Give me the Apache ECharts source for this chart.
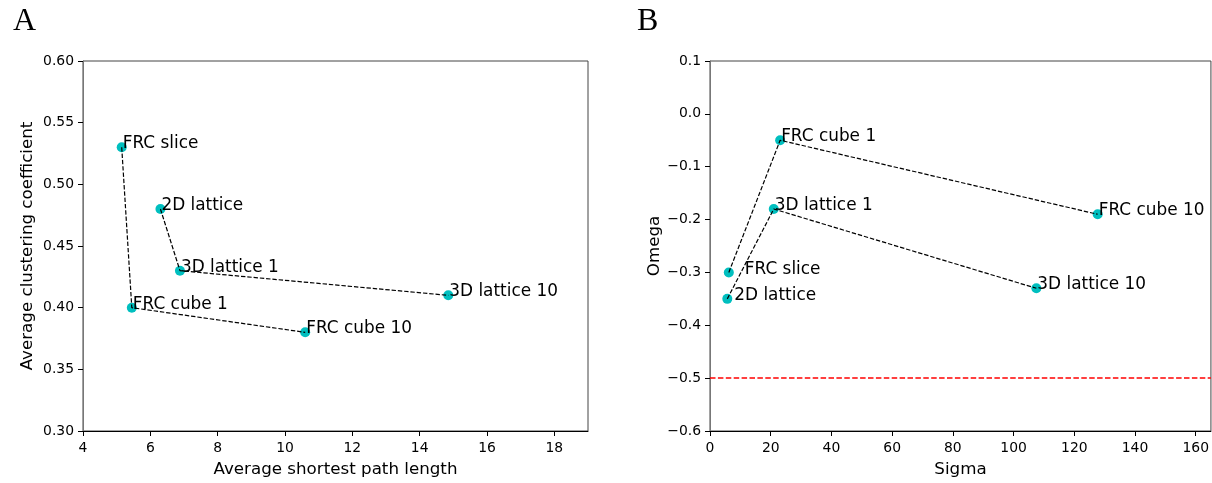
<!DOCTYPE html>
<html>
<head>
<meta charset="utf-8">
<script src="https://cdn.jsdelivr.net/npm/echarts@6/dist/echarts.min.js"></script>
<style>
  html, body { margin: 0; padding: 0; background: #fff; }
  #chart { width: 1212px; height: 483px; }
</style>
</head>
<body>
<div id="chart"></div>
<script>
// Network variants: names shared by both panels
const networkNames = ['FRC slice', '2D lattice', '3D lattice 1', '3D lattice 10', 'FRC cube 1', 'FRC cube 10'];

// Panel A: average shortest path length vs average clustering coefficient
const pathLength = [5.15, 6.3, 6.88, 14.85, 5.45, 10.6];
const clustering = [0.53, 0.48, 0.43, 0.41, 0.40, 0.38];

// Panel B: small-world sigma vs omega
const sigma = [6.2, 5.7, 21.0, 107.5, 23.1, 127.7];
const omega = [-0.30, -0.35, -0.18, -0.33, -0.05, -0.19];
const omegaThreshold = -0.5;

// Dashed chains joining the networks
const chainsA = [['FRC slice', 'FRC cube 1', 'FRC cube 10'], ['2D lattice', '3D lattice 1', '3D lattice 10']];
const chainsB = [['FRC slice', 'FRC cube 1', 'FRC cube 10'], ['2D lattice', '3D lattice 1', '3D lattice 10']];

// Tick labels
const ticksAx = [4, 6, 8, 10, 12, 14, 16, 18];
const ticksAy = [0.30, 0.35, 0.40, 0.45, 0.50, 0.55, 0.60];
const ticksBx = [0, 20, 40, 60, 80, 100, 120, 140, 160];
const ticksBy = [-0.6, -0.5, -0.4, -0.3, -0.2, -0.1, 0.0, 0.1];

const FONT = 'DejaVu Sans';
const MARKER = '#00bfbf';

// label nudges (pixels) for crowded points in panel B
const labelNudgeB = { 'FRC slice': [16, 2], '2D lattice': [7, 1] };

function points(xs, ys, nudge) {
  return networkNames.map((n, i) => {
    const d = nudge && nudge[n] ? nudge[n] : [1, 1];
    return {
      name: n,
      value: [xs[i], ys[i]],
      label: { position: [5 + d[0], 5 + d[1] + 4] }
    };
  });
}

function chainLines(chains, xs, ys, gi) {
  return chains.map(chain => ({
    type: 'line',
    xAxisIndex: gi, yAxisIndex: gi,
    data: chain.map(n => { const i = networkNames.indexOf(n); return [xs[i], ys[i]]; }),
    symbol: 'none',
    silent: true,
    z: 5,
    lineStyle: { color: '#000', width: 1.2, type: [4.4, 1.9] }
  }));
}

function scatter(xs, ys, gi, nudge) {
  return {
    type: 'scatter',
    xAxisIndex: gi, yAxisIndex: gi,
    data: points(xs, ys, nudge),
    symbolSize: 10,
    itemStyle: { color: MARKER, opacity: 1 },
    z: 3,
    label: {
      show: true,
      formatter: p => p.name,
      align: 'left',
      verticalAlign: 'bottom',
      fontFamily: FONT,
      fontSize: 16.9,
      lineHeight: 17,
      color: '#000'
    }
  };
}

const fmtMinus = d => v => v.toFixed(d).replace('-', '\u2212');

function xAxisCfg(gi, min, max, ticks, name, fmt) {
  return {
    type: 'value', gridIndex: gi, min: min, max: max,
    name: name, nameLocation: 'middle', nameGap: 30,
    nameTextStyle: { fontFamily: FONT, fontSize: 16.7, color: '#000' },
    axisLine: { show: true, onZero: false, lineStyle: { color: '#000', width: 1 } },
    axisTick: { show: true, length: 5, customValues: ticks, lineStyle: { color: '#000' } },
    axisLabel: { customValues: ticks, formatter: fmt, margin: 10, fontFamily: FONT, fontSize: 13.9, color: '#000' },
    splitLine: { show: false }
  };
}

function yAxisCfg(gi, min, max, ticks, name, fmt, gap) {
  return {
    type: 'value', gridIndex: gi, min: min, max: max,
    name: name, nameLocation: 'middle', nameGap: gap,
    nameTextStyle: { fontFamily: FONT, fontSize: 16.7, color: '#000' },
    axisLine: { show: true, onZero: false, lineStyle: { color: '#777', width: 1 } },
    axisTick: { show: true, length: 5, customValues: ticks, lineStyle: { color: '#000' } },
    axisLabel: { customValues: ticks, formatter: fmt, margin: 9, fontFamily: FONT, fontSize: 13.9, color: '#000' },
    splitLine: { show: false }
  };
}

const chart = echarts.init(document.getElementById('chart'), null, { renderer: 'canvas' });

const redLine = {
  type: 'line', xAxisIndex: 1, yAxisIndex: 1, data: [], symbol: 'none',
  markLine: {
    silent: true, symbol: 'none', animation: false,
    label: { show: false },
    lineStyle: { color: '#ff0000', width: 1.6, type: [5.5, 2.4] },
    data: [{ yAxis: omegaThreshold }]
  }
};

chart.setOption({
  animation: false,
  backgroundColor: '#fff',
  title: [
    { text: 'A', left: 8, top: 1, textStyle: { fontFamily: 'Liberation Serif', fontSize: 32, fontWeight: 'normal', color: '#000' } },
    { text: 'B', left: 632, top: 1, textStyle: { fontFamily: 'Liberation Serif', fontSize: 32, fontWeight: 'normal', color: '#000' } }
  ],
  grid: [
    { left: 83, top: 61, width: 505, height: 375, show: true, borderColor: '#444', borderWidth: 1, backgroundColor: 'transparent' },
    { left: 710, top: 61, width: 505, height: 375, show: true, borderColor: '#444', borderWidth: 1, backgroundColor: 'transparent' }
  ],
  xAxis: [
    xAxisCfg(0, 4, 19, ticksAx, 'Average shortest path length', v => String(v)),
    xAxisCfg(1, 0, 165, ticksBx, 'Sigma', v => String(v))
  ],
  yAxis: [
    yAxisCfg(0, 0.30, 0.60, ticksAy, 'Average clustering coefficient', v => v.toFixed(2), 47),
    yAxisCfg(1, -0.6, 0.1, ticksBy, 'Omega', fmtMinus(1), 47)
  ],
  series: [
    scatter(pathLength, clustering, 0, null),
    ...chainLines(chainsA, pathLength, clustering, 0),
    scatter(sigma, omega, 1, labelNudgeB),
    ...chainLines(chainsB, sigma, omega, 1),
    redLine
  ]
});
</script>
</body>
</html>
